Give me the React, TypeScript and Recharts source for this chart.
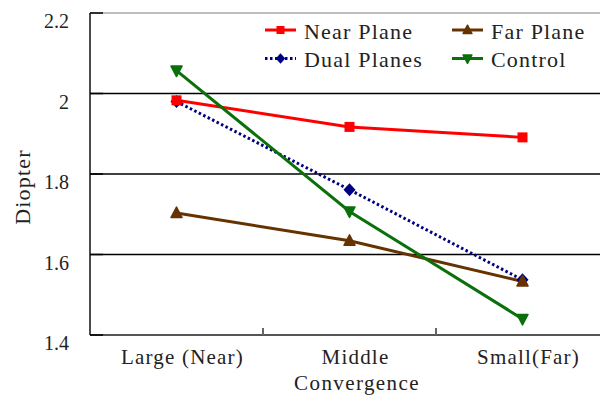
import React from "react";
import { LineChart, Line, XAxis, YAxis, ReferenceLine } from "recharts";

const CATEGORIES = ["Large (Near)", "Middle", "Small(Far)"];
const NEAR_PLANE = [1.983, 1.917, 1.891];
const DUAL_PLANES = [1.98, 1.761, 1.537];
const FAR_PLANE = [1.703, 1.634, 1.533];
const CONTROL = [2.057, 1.707, 1.44];
const Y_TICKS = [1.4, 1.6, 1.8, 2, 2.2];
const GRID_VALUES = [1.6, 1.8, 2];

const CHART_W = 620;
const CHART_H = 404;
const MARGIN = { top: 13, right: 11, left: 0, bottom: 9 };
const Y_AXIS_W = 90;
const BAND = (CHART_W - Y_AXIS_W - MARGIN.right) / CATEGORIES.length;
const FONT = "'Liberation Serif', 'DejaVu Serif', serif";
const TEXT = "#222";

const data = CATEGORIES.map((c, i) => ({
    name: c,
    near: NEAR_PLANE[i],
    dual: DUAL_PLANES[i],
    far: FAR_PLANE[i],
    control: CONTROL[i],
}));

type Shape = "square" | "diamond" | "up" | "down";

// draw order: dual underneath, control on top
const SERIES: { key: string; label: string; color: string; shape: Shape; dash?: string }[] = [
    { key: "dual", label: "Dual Planes", color: "#000080", shape: "diamond", dash: "2.5 2.5" },
    { key: "near", label: "Near Plane", color: "#ff0000", shape: "square" },
    { key: "far", label: "Far Plane", color: "#663300", shape: "up" },
    { key: "control", label: "Control", color: "#0a700a", shape: "down" },
];

function Marker({ cx, cy, shape, color, s = 1 }: { cx: number; cy: number; shape: Shape; color: string; s?: number }) {
    if (shape === "square") return <rect x={cx - 5 * s} y={cy - 5 * s} width={10 * s} height={10 * s} fill={color} />;
    if (shape === "diamond")
        return <polygon points={`${cx},${cy - 6.5 * s} ${cx + 6 * s},${cy} ${cx},${cy + 6.5 * s} ${cx - 6 * s},${cy}`} fill={color} />;
    if (shape === "up")
        return <polygon points={`${cx},${cy - 6 * s} ${cx + 5.5 * s},${cy + 4.5 * s} ${cx - 5.5 * s},${cy + 4.5 * s}`} fill={color} stroke={color} strokeLinejoin="round" strokeWidth={1.5} />;
    return <polygon points={`${cx - 5.5 * s},${cy - 4.5 * s} ${cx + 5.5 * s},${cy - 4.5 * s} ${cx},${cy + 6 * s}`} fill={color} stroke={color} strokeLinejoin="round" strokeWidth={1.5} />;
}

function YTick(props: any) {
    const { x, y, payload } = props;
    return (
        <g>
            <line x1={x + 21} x2={x + 34} y1={y} y2={y} stroke="#000" strokeWidth={1.5} />
            <text x={x} y={y + 15} textAnchor="end" style={{ fontFamily: FONT }} fontSize={20} fill={TEXT}>
                {payload.value}
            </text>
        </g>
    );
}

function XTick(props: any) {
    const { x, y, payload, index } = props;
    return (
        <g>
            {index < CATEGORIES.length - 1 && (
                <line x1={x + BAND / 2} x2={x + BAND / 2} y1={y} y2={y - 7} stroke="#666" strokeWidth={2} />
            )}
            <text x={x + 6} y={y + 29} textAnchor="middle" style={{ fontFamily: FONT }} fontSize={21} letterSpacing={1.2} fill={TEXT}>
                {payload.value}
            </text>
        </g>
    );
}

const LEGEND_ROWS = [
    ["near", "far"],
    ["dual", "control"],
];

export default function App() {
    return (
        <div style={{ position: "absolute", left: 0, top: 0, width: 600, height: 404, overflow: "hidden", background: "#fff" }}>
            <LineChart width={CHART_W} height={CHART_H} data={data} margin={MARGIN}>
                <XAxis
                    dataKey="name"
                    scale="band"
                    height={60}
                    tickLine={false}
                    tickSize={0}
                    tickMargin={0}
                    axisLine={{ stroke: "#555", strokeWidth: 2 }}
                    tick={<XTick />}
                    interval={0}
                />
                <YAxis
                    width={Y_AXIS_W}
                    domain={[1.4, 2.2]}
                    ticks={Y_TICKS}
                    tickLine={false}
                    tickSize={0}
                    tickMargin={21}
                    axisLine={{ stroke: "#111", strokeWidth: 1.5 }}
                    tick={<YTick />}
                    interval={0}
                />
                <ReferenceLine y={2.2} stroke="#a8a8a8" strokeWidth={1.5} />
                {GRID_VALUES.map((v) => (
                    <ReferenceLine key={v} y={v} stroke="#000" strokeWidth={1.3} />
                ))}
                {SERIES.map((s) => (
                    <Line
                        key={s.key}
                        dataKey={s.key}
                        stroke={s.color}
                        strokeWidth={3}
                        strokeDasharray={s.dash}
                        isAnimationActive={false}
                        dot={(p: any) => <Marker key={`${s.key}-${p.index}`} cx={p.cx} cy={p.cy} shape={s.shape} color={s.color} />}
                        activeDot={false}
                    />
                ))}
            </LineChart>
            <svg width={600} height={404} style={{ position: "absolute", left: 0, top: 0, pointerEvents: "none" }}>
                {LEGEND_ROWS.map((row, r) =>
                    row.map((key, c) => {
                        const s = SERIES.find((d) => d.key === key)!;
                        const lx = c === 0 ? 265 : 452;
                        const ly = r === 0 ? 30 : 58.5;
                        return (
                            <g key={key}>
                                <line x1={lx} x2={lx + 31} y1={ly} y2={ly} stroke={s.color} strokeWidth={3} strokeDasharray={s.dash} />
                                <Marker cx={lx + 15.5} cy={ly} shape={s.shape} color={s.color} s={0.8} />
                                <text x={lx + 39} y={ly + 8.5} style={{ fontFamily: FONT }} fontSize={22} letterSpacing={1.2} fill={TEXT}>
                                    {s.label}
                                </text>
                            </g>
                        );
                    })
                )}
                <text x={357} y={390} textAnchor="middle" style={{ fontFamily: FONT }} fontSize={21} letterSpacing={1.4} fill={TEXT}>
                    Convergence
                </text>
                <text
                    transform="translate(30,187) rotate(-90)"
                    textAnchor="middle"
                    style={{ fontFamily: FONT }}
                    fontSize={22}
                    letterSpacing={1.2}
                    fill={TEXT}
                >
                    Diopter
                </text>
            </svg>
        </div>
    );
}
